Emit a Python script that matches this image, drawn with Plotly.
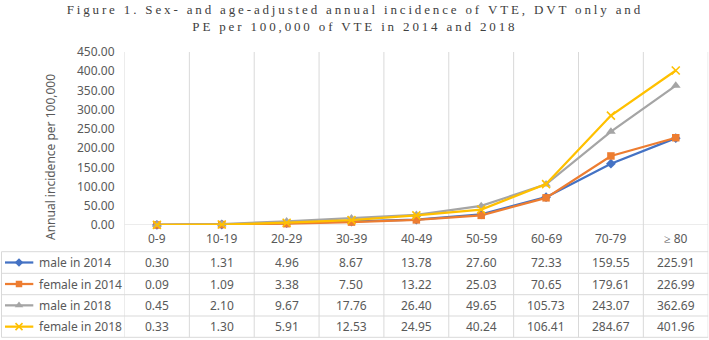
import plotly.graph_objects as go

# ---------------- data ----------------
categories = ["0-9", "10-19", "20-29", "30-39", "40-49", "50-59", "60-69", "70-79", "≥ 80"]
male_2014 = [0.30, 1.31, 4.96, 8.67, 13.78, 27.60, 72.33, 159.55, 225.91]
female_2014 = [0.09, 1.09, 3.38, 7.50, 13.22, 25.03, 70.65, 179.61, 226.99]
male_2018 = [0.45, 2.10, 9.67, 17.76, 26.40, 49.65, 105.73, 243.07, 362.69]
female_2018 = [0.33, 1.30, 5.91, 12.53, 24.95, 40.24, 106.41, 284.67, 401.96]
series_names = ["male in 2014", "female in 2014", "male in 2018", "female in 2018"]
y_ticks = [0, 50, 100, 150, 200, 250, 300, 350, 400, 450]
title_text = ("Figure 1. Sex- and age-adjusted annual incidence of VTE, DVT only and<br>"
              "PE per 100,000 of VTE in 2014 and 2018")
y_title = "Annual incidence per 100,000"

series_values = [male_2014, female_2014, male_2018, female_2018]

# ---------------- styles / layout geometry ----------------
W, H = 709, 340
PL, PR, PT, PB = 124.5, 708.2, 52, 225          # plot area in pixels
ROW_LINES = [251.7, 273.3, 294.7, 316.0, 337.3]  # table horizontal rules
HEADER_Y = 238.3
TABLE_LEFT = 1.5
GRID = "#D9D9D9"
TXT = "#595959"
FONT = "Noto Sans"

styles = [
    dict(color="#4472C4", symbol="diamond", size=7.5, mline=0),
    dict(color="#ED7D31", symbol="square", size=7.5, mline=0),
    dict(color="#A5A5A5", symbol="triangle-up", size=8.5, mline=0),
    dict(color="#FFC000", symbol="x-thin", size=8, mline=1.6),
]


def px(x):
    return x / W


def py(y):
    return 1 - y / H


fig = go.Figure()
xs = list(range(len(categories)))

for name, vals, st in zip(series_names, series_values, styles):
    fig.add_trace(go.Scatter(
        x=xs, y=vals, name=name, mode="lines+markers",
        line=dict(color=st["color"], width=2.25),
        marker=dict(symbol=st["symbol"], size=st["size"], color=st["color"],
                    line=dict(width=st["mline"], color=st["color"])),
        cliponaxis=False, showlegend=False, hoverinfo="skip",
    ))

# legend keys inside the data table (pixel-coordinate overlay axes)
for i, (name, st) in enumerate(zip(series_names, styles)):
    yc = (ROW_LINES[i] + ROW_LINES[i + 1]) / 2
    fig.add_trace(go.Scatter(
        x=[5, 33.3], y=[yc, yc], mode="lines", xaxis="x2", yaxis="y2",
        line=dict(color=st["color"], width=2.25), showlegend=False, hoverinfo="skip"))
    fig.add_trace(go.Scatter(
        x=[19], y=[yc], mode="markers", xaxis="x2", yaxis="y2",
        marker=dict(symbol=st["symbol"], size=st["size"] - 1, color=st["color"],
                    line=dict(width=st["mline"], color=st["color"])),
        showlegend=False, hoverinfo="skip", cliponaxis=False))

shapes = []
# vertical category separators spanning plot + table
for i in range(len(categories) + 1):
    shapes.append(dict(type="line", xref="x", yref="paper", x0=i - 0.5, x1=i - 0.5,
                       y0=py(ROW_LINES[-1]), y1=py(PT), line=dict(color=GRID, width=1),
                       layer="below"))
# baseline
shapes.append(dict(type="line", xref="x", yref="y", x0=-0.5, x1=len(categories) - 0.5,
                   y0=0, y1=0, line=dict(color=GRID, width=1), layer="below"))
# table rows
for ry in ROW_LINES:
    shapes.append(dict(type="line", xref="paper", yref="paper", x0=px(TABLE_LEFT), x1=px(PR),
                       y0=py(ry), y1=py(ry), line=dict(color=GRID, width=1), layer="below"))
shapes.append(dict(type="line", xref="paper", yref="paper", x0=px(TABLE_LEFT), x1=px(TABLE_LEFT),
                   y0=py(ROW_LINES[0]), y1=py(ROW_LINES[-1]), line=dict(color=GRID, width=1),
                   layer="below"))

annotations = []
# title
annotations.append(dict(xref="paper", yref="paper", x=0.5, y=py(0), text=title_text,
                        xanchor="center", yanchor="top", align="center", showarrow=False,
                        font=dict(family="Liberation Serif", size=13, color="#404040")))
for i, (name, vals) in enumerate(zip(series_names, series_values)):
    yc = (ROW_LINES[i] + ROW_LINES[i + 1]) / 2
    annotations.append(dict(xref="paper", yref="paper", x=px(36.5), y=py(yc), text=name,
                            xanchor="left", yanchor="middle", showarrow=False,
                            font=dict(family=FONT, size=12, color=TXT)))
    for j, v in enumerate(vals):
        annotations.append(dict(xref="x", yref="paper", x=j, y=py(yc), text=f"{v:.2f}",
                                xanchor="center", yanchor="middle", showarrow=False,
                                font=dict(family=FONT, size=12, color=TXT)))
for j, c in enumerate(categories):
    annotations.append(dict(xref="x", yref="paper", x=j, y=py(HEADER_Y), text=c,
                            xanchor="center", yanchor="middle", showarrow=False,
                            font=dict(family=FONT, size=12, color=TXT)))
annotations.append(dict(xref="paper", yref="paper", x=px(50), y=py(157), text=y_title,
                        textangle=-90, xanchor="center", yanchor="middle", showarrow=False,
                        font=dict(family=FONT, size=12, color=TXT)))

fig.update_layout(
    width=W, height=H,
    margin=dict(l=0, r=0, t=0, b=0, autoexpand=False),
    paper_bgcolor="white", plot_bgcolor="rgba(0,0,0,0)",
    xaxis=dict(domain=[px(PL), px(PR)], range=[-0.5, len(categories) - 0.5],
               tickvals=xs, ticktext=categories, showticklabels=False,
               showgrid=False, zeroline=False, showline=False, ticks=""),
    yaxis=dict(domain=[py(PB), py(PT)], range=[0, 450], tickvals=y_ticks,
               tickformat=".2f", showgrid=False, zeroline=False, showline=False, ticks="",
               ticklabelstandoff=9, tickfont=dict(family=FONT, size=12, color=TXT)),
    xaxis2=dict(domain=[0, 1], range=[0, W], visible=False, anchor="y2", fixedrange=True),
    yaxis2=dict(domain=[0, 1], range=[H, 0], visible=False, anchor="x2", fixedrange=True),
    shapes=shapes, annotations=annotations, showlegend=False,
)

post = """
document.body.style.margin = '0';
document.body.style.padding = '0';
var gd = document.getElementById('{plot_id}');
function spaceTitle(){
  gd.querySelectorAll('.annotation-text').forEach(function(el){
    if ((el.textContent || '').indexOf('Figure 1.') === 0) {
      el.style.letterSpacing = '2.85px';
    }
  });
}
spaceTitle();
if (gd.on) { gd.on('plotly_afterplot', spaceTitle); }
"""

fig.write_html("out.html", post_script=post, config={"displayModeBar": False})
